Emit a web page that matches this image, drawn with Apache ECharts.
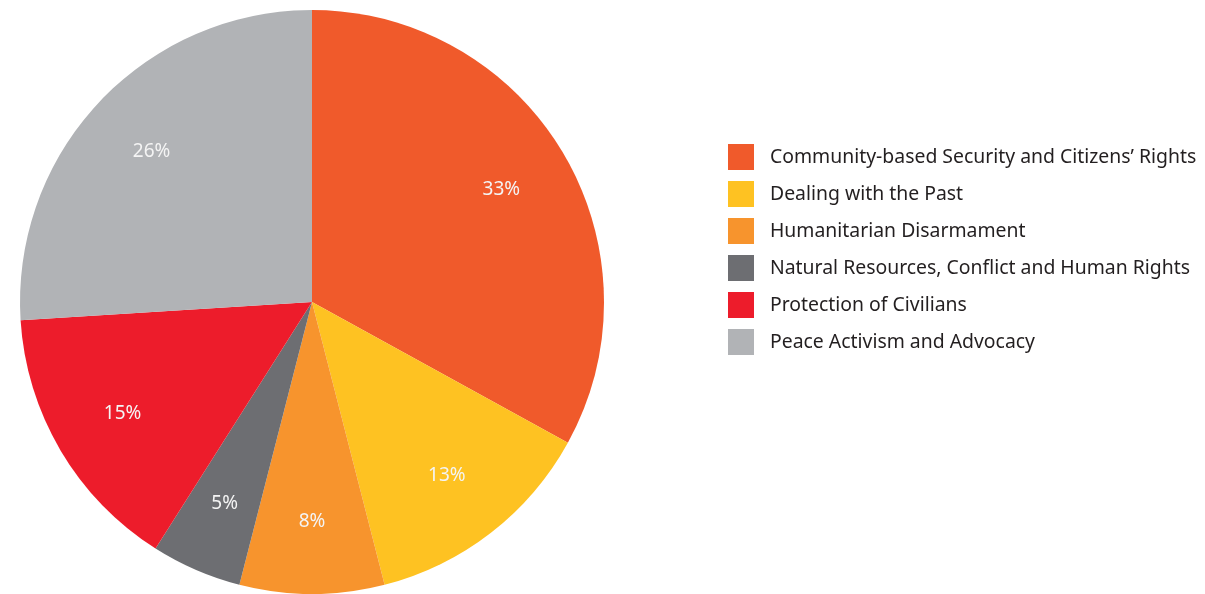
<!DOCTYPE html>
<html>
<head>
<meta charset="utf-8">
<script src="https://cdn.jsdelivr.net/npm/echarts@6/dist/echarts.min.js"></script>
<style>
  html, body { margin: 0; padding: 0; background: #fff; }
  #main { width: 1205px; height: 594px; }
</style>
</head>
<body>
<div id="main"></div>
<script>
// 分类与数值
var categories = [
    'Community-based Security and Citizens’ Rights',
    'Dealing with the Past',
    'Humanitarian Disarmament',
    'Natural Resources, Conflict and Human Rights',
    'Protection of Civilians',
    'Peace Activism and Advocacy'
];
var values = [33, 13, 8, 5, 15, 26];
var colors = ['#f05a2b', '#fec222', '#f7942d', '#6d6e72', '#ed1c2b', '#b1b3b6'];

var pieData = categories.map(function (name, i) {
    return { name: name, value: values[i] };
});

var myChart = echarts.init(document.getElementById('main'));
var option = {
    animation: false,
    color: colors,
    legend: {
        orient: 'vertical',
        left: 723,
        top: 139,
        icon: 'rect',
        itemWidth: 26,
        itemHeight: 26,
        itemGap: 11,
        data: categories,
        textStyle: {
            color: '#231f20',
            fontSize: 19.4,
            fontFamily: 'Noto Sans',
            padding: [0, 0, 0, 11]
        }
    },
    series: [{
        // 饼图本体
        type: 'pie',
        center: [312, 302],
        radius: [0, 292],
        startAngle: 90,
        clockwise: true,
        silent: true,
        label: { show: false },
        labelLine: { show: false },
        itemStyle: { borderWidth: 0 },
        data: pieData
    }, {
        // 只用来放百分比标签（标签在 0.75 半径处）
        type: 'pie',
        center: [312, 302],
        radius: [144, 290],
        startAngle: 90,
        clockwise: true,
        silent: true,
        itemStyle: { color: 'transparent', borderWidth: 0 },
        label: {
            show: true,
            position: 'inside',
            formatter: '{c}%',
            color: '#f4f4f4',
            fontSize: 19,
            fontFamily: 'Noto Sans'
        },
        labelLine: { show: false },
        data: pieData
    }]
};
myChart.setOption(option);
</script>
</body>
</html>
